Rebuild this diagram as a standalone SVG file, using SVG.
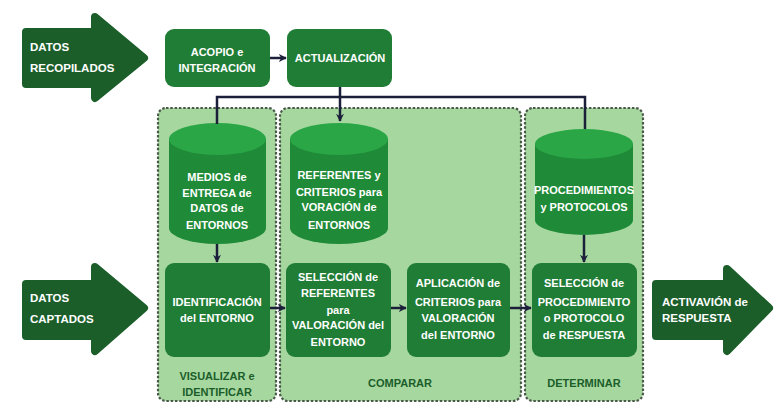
<svg xmlns="http://www.w3.org/2000/svg" width="775" height="405" viewBox="0 0 775 405">
<defs>
<style>
.big{fill:#1b5e2a;stroke:#1b5e2a;stroke-width:8;stroke-linejoin:round}
.box{fill:#1f7d36}
.cont{fill:#a6d79f;stroke:#4a5a4a;stroke-width:2.2;stroke-dasharray:2.5 1.8}
.cylb{fill:#1f8a37}
.cylt{fill:#2aa646}
.t{font-family:"Liberation Sans",Arial,sans-serif;font-weight:bold;font-size:11px;fill:#ffffff;text-anchor:middle}
.tl{font-family:"Liberation Sans",Arial,sans-serif;font-weight:bold;font-size:11.5px;fill:#ffffff}
.lab{font-family:"Liberation Sans",Arial,sans-serif;font-weight:bold;font-size:11px;fill:#1b5e2a;text-anchor:middle}
.c{fill:none;stroke:#1c1f3a;stroke-width:2.5}
</style>
<marker id="ah" viewBox="0 0 10 10" refX="9" refY="5" markerWidth="3.2" markerHeight="3.2" orient="auto" markerUnits="strokeWidth">
<path d="M0,0 L10,5 L0,10 L3,5 Z" fill="#1c1f3a"/>
</marker>
</defs>

<g id="datos-recopilados">
<path class="big" d="M26,32 H95 V17 L144,58 L95,98 V84 H26 Z"/>
<text class="tl" x="30" y="51">DATOS</text>
<text class="tl" x="30" y="72">RECOPILADOS</text>
</g>
<g id="datos-captados">
<path class="big" d="M26,284 H95 V267 L144,308 L95,351 V336 H26 Z"/>
<text class="tl" x="30" y="302">DATOS</text>
<text class="tl" x="30" y="323">CAPTADOS</text>
</g>
<g id="activacion">
<path class="big" d="M656,284 H727 V269 L769,308 L727,351 V336 H656 Z"/>
<text class="tl" x="662" y="306">ACTIVAVIÓN de</text>
<text class="tl" x="662" y="322">RESPUESTA</text>
</g>

<g id="cont-visualizar">
<rect class="cont" x="158" y="108" width="118" height="293" rx="8"/>
<text class="lab" x="217" y="380">VISUALIZAR e</text>
<text class="lab" x="217" y="396">IDENTIFICAR</text>
</g>
<g id="cont-comparar">
<rect class="cont" x="280" y="108" width="241" height="293" rx="8"/>
<text class="lab" x="400" y="387">COMPARAR</text>
</g>
<g id="cont-determinar">
<rect class="cont" x="525" y="108" width="118" height="293" rx="8"/>
<text class="lab" x="584" y="387">DETERMINAR</text>
</g>

<g id="acopio">
<rect class="box" x="165" y="29" width="105" height="58" rx="9"/>
<text class="t" x="217" y="56">ACOPIO e</text>
<text class="t" x="217" y="72">INTEGRACIÓN</text>
</g>
<g id="actualizacion">
<rect class="box" x="287" y="29" width="105" height="58" rx="9"/>
<text class="t" x="340" y="62">ACTUALIZACIÓN</text>
</g>

<g id="cyl-medios">
<path class="cylb" d="M169,139 V228 A48.5,16 0 0 0 266,228 V139 Z"/>
<ellipse class="cylt" cx="217.5" cy="139" rx="48.5" ry="16"/>
<text class="t" x="217" y="181">MEDIOS de</text>
<text class="t" x="217" y="197">ENTREGA de</text>
<text class="t" x="217" y="212">DATOS de</text>
<text class="t" x="217" y="229">ENTORNOS</text>
</g>
<g id="cyl-referentes">
<path class="cylb" d="M290,139 V228 A49,16 0 0 0 388,228 V139 Z"/>
<ellipse class="cylt" cx="339" cy="139" rx="49" ry="16"/>
<text class="t" x="339" y="179">REFERENTES y</text>
<text class="t" x="339" y="196">CRITERIOS para</text>
<text class="t" x="339" y="211">VORACIÓN de</text>
<text class="t" x="339" y="229">ENTORNOS</text>
</g>
<g id="cyl-procedimientos">
<path class="cylb" d="M535,144 V220 A49,15 0 0 0 633,220 V144 Z"/>
<ellipse class="cylt" cx="584" cy="144" rx="49" ry="15"/>
<text class="t" x="584" y="194">PROCEDIMIENTOS</text>
<text class="t" x="584" y="211">y PROTOCOLOS</text>
</g>

<g id="identificacion">
<rect class="box" x="165" y="263" width="105" height="94" rx="9"/>
<text class="t" x="217" y="306">IDENTIFICACIÓN</text>
<text class="t" x="217" y="322">del ENTORNO</text>
</g>
<g id="seleccion-referentes">
<rect class="box" x="286" y="263" width="105" height="94" rx="9"/>
<text class="t" x="338" y="281">SELECCIÓN de</text>
<text class="t" x="338" y="297">REFERENTES</text>
<text class="t" x="338" y="314">para</text>
<text class="t" x="338" y="329">VALORACIÓN del</text>
<text class="t" x="338" y="346">ENTORNO</text>
</g>
<g id="aplicacion">
<rect class="box" x="407" y="263" width="103" height="94" rx="9"/>
<text class="t" x="458" y="287">APLICACIÓN de</text>
<text class="t" x="458" y="306">CRITERIOS para</text>
<text class="t" x="458" y="322">VALORACIÓN</text>
<text class="t" x="458" y="339">del ENTORNO</text>
</g>
<g id="seleccion-procedimiento">
<rect class="box" x="532" y="263" width="105" height="94" rx="9"/>
<text class="t" x="584" y="287">SELECCIÓN de</text>
<text class="t" x="584" y="306">PROCEDIMIENTO</text>
<text class="t" x="584" y="322">o PROTOCOLO</text>
<text class="t" x="584" y="339">de RESPUESTA</text>
</g>

<g id="connectors">
<path class="c" d="M270,58 H286" marker-end="url(#ah)"/>
<path class="c" d="M340,87 V121" marker-end="url(#ah)"/>
<path class="c" d="M217,124 V97 H585 V129"/>
<path class="c" d="M217,244 V262" marker-end="url(#ah)"/>
<path class="c" d="M584,235 V262" marker-end="url(#ah)"/>
<path class="c" d="M270,308 H285" marker-end="url(#ah)"/>
<path class="c" d="M391,308 H406" marker-end="url(#ah)"/>
<path class="c" d="M510,308 H531" marker-end="url(#ah)"/>
</g>
</svg>
